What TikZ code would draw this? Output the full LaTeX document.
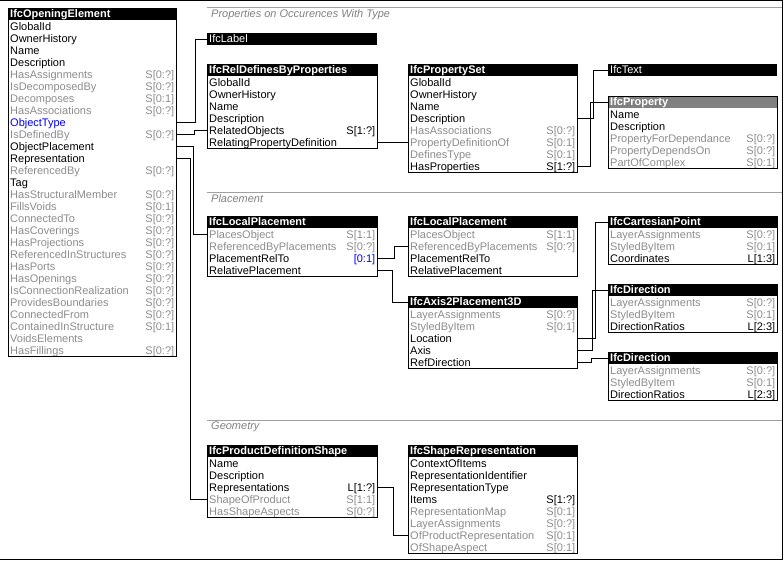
\documentclass[tikz,border=0pt]{standalone}
\usepackage{fontspec}
\setmainfont{Liberation Sans}
\definecolor{invgray}{RGB}{140,140,140}
\definecolor{secgray}{RGB}{128,128,128}
\definecolor{linegray}{RGB}{160,160,160}

\begin{document}
\begin{tikzpicture}[
    x=1pt, y=-1pt,
    hdr/.style={anchor=north west, fill=black, text=white, inner xsep=2pt, inner ysep=0pt,
        text height=9.5pt, text depth=2.5pt, align=left, font=\bfseries\fontsize{11}{12}\selectfont},
    typ/.style={hdr, font=\fontsize{11}{12}\selectfont},
    abs/.style={hdr, fill=gray},
    att/.style={anchor=north west, inner xsep=2pt, inner ysep=0pt, text height=10.5pt,
        text depth=1.5pt, align=left, font=\fontsize{11}{12}\selectfont},
    inv/.style={att, text=invgray},
    opt/.style={att, text=blue},
    card/.style={align=right},
    box/.style={draw, line width=1pt},
    link/.style={draw, line width=1pt},
    sec/.style={anchor=west, inner sep=0pt, text=secgray, font=\itshape\fontsize{11}{12}\selectfont},
    secline/.style={draw=linegray, line width=1pt}
]
    \useasboundingbox (0,0) rectangle (784,560);
    % frame
    \draw[line width=1pt] (0,0.5) -| (782.5,559) -- (0,559);

    % sections
    \draw[secline] (207,7.5) -- (782,7.5);
    \node[sec] (secprop) at (211,15) {Properties on Occurences With Type};
    \draw[secline] (207,192) -- (782,192);
    \node[sec] (secplace) at (211,199) {Placement};
    \draw[secline] (207,420) -- (782,420);
    \node[sec] (secgeo) at (211,427) {Geometry};

    % opening element
    \begin{scope}[shift={(8,8)}, every node/.append style={text width=164pt}]
        \node[hdr] (ope) at (0,0) {IfcOpeningElement};
        \foreach \n/\c/\s [count=\i] in {GlobalId//att, OwnerHistory//att, Name//att, Description//att,
            HasAssignments/S[0:?]/inv, IsDecomposedBy/S[0:?]/inv, Decomposes/S[0:1]/inv,
            HasAssociations/S[0:?]/inv, ObjectType//opt, IsDefinedBy/S[0:?]/inv,
            ObjectPlacement//att, Representation//att, ReferencedBy/S[0:?]/inv, Tag//att,
            HasStructuralMember/S[0:?]/inv, FillsVoids/S[0:1]/inv, ConnectedTo/S[0:?]/inv,
            HasCoverings/S[0:?]/inv, HasProjections/S[0:?]/inv, ReferencedInStructures/S[0:?]/inv,
            HasPorts/S[0:?]/inv, HasOpenings/S[0:?]/inv, IsConnectionRealization/S[0:?]/inv,
            ProvidesBoundaries/S[0:?]/inv, ConnectedFrom/S[0:?]/inv, ContainedInStructure/S[0:1]/inv,
            VoidsElements//inv, HasFillings/S[0:?]/inv} {
            \node[\s] (ope-\n) at (0,12*\i) {\n};
            \node[\s, card] (ope-\n-c) at (0,12*\i) {\c};
        }
        \draw[box] (ope.north west) rectangle (ope-HasFillings.south east);
    \end{scope}

    % properties
    \node[typ, text width=166pt] (lbl) at (207,33) {IfcLabel};
    \begin{scope}[shift={(207,64)}, every node/.append style={text width=166pt}]
        \node[hdr] (rdp) at (0,0) {IfcRelDefinesByProperties};
        \foreach \n/\c/\s [count=\i] in {GlobalId//att, OwnerHistory//att, Name//att, Description//att,
            RelatedObjects/S[1:?]/att, RelatingPropertyDefinition//att} {
            \node[\s] (rdp-\n) at (0,12*\i) {\n};
            \node[\s, card] (rdp-\n-c) at (0,12*\i) {\c};
        }
        \draw[box] (rdp.north west) rectangle (rdp-RelatingPropertyDefinition.south east);
    \end{scope}
    \begin{scope}[shift={(408,64)}, every node/.append style={text width=165pt}]
        \node[hdr] (pset) at (0,0) {IfcPropertySet};
        \foreach \n/\c/\s [count=\i] in {GlobalId//att, OwnerHistory//att, Name//att, Description//att,
            HasAssociations/S[0:?]/inv, PropertyDefinitionOf/S[0:1]/inv, DefinesType/S[0:1]/inv,
            HasProperties/S[1:?]/att} {
            \node[\s] (pset-\n) at (0,12*\i) {\n};
            \node[\s, card] (pset-\n-c) at (0,12*\i) {\c};
        }
        \draw[box] (pset.north west) rectangle (pset-HasProperties.south east);
    \end{scope}
    \node[typ, text width=165pt] (txt) at (608,64) {IfcText};
    \begin{scope}[shift={(608,96)}, every node/.append style={text width=165pt}]
        \node[abs] (prop) at (0,0) {IfcProperty};
        \foreach \n/\c/\s [count=\i] in {Name//att, Description//att, PropertyForDependance/S[0:?]/inv,
            PropertyDependsOn/S[0:?]/inv, PartOfComplex/S[0:1]/inv} {
            \node[\s] (prop-\n) at (0,12*\i) {\n};
            \node[\s, card] (prop-\n-c) at (0,12*\i) {\c};
        }
        \draw[box] (prop.north west) rectangle (prop-PartOfComplex.south east);
    \end{scope}

    % placement
    \begin{scope}[shift={(207,216)}, every node/.append style={text width=166pt}]
        \node[hdr] (lp1) at (0,0) {IfcLocalPlacement};
        \foreach \n/\c/\s [count=\i] in {PlacesObject/S[1:1]/inv, ReferencedByPlacements/S[0:?]/inv,
            PlacementRelTo/{\textcolor{blue}{[0:1]}}/att, RelativePlacement//att} {
            \node[\s] (lp1-\n) at (0,12*\i) {\n};
            \node[\s, card] (lp1-\n-c) at (0,12*\i) {\c};
        }
        \draw[box] (lp1.north west) rectangle (lp1-RelativePlacement.south east);
    \end{scope}
    \begin{scope}[shift={(408,216)}, every node/.append style={text width=165pt}]
        \node[hdr] (lp2) at (0,0) {IfcLocalPlacement};
        \foreach \n/\c/\s [count=\i] in {PlacesObject/S[1:1]/inv, ReferencedByPlacements/S[0:?]/inv,
            PlacementRelTo//att, RelativePlacement//att} {
            \node[\s] (lp2-\n) at (0,12*\i) {\n};
            \node[\s, card] (lp2-\n-c) at (0,12*\i) {\c};
        }
        \draw[box] (lp2.north west) rectangle (lp2-RelativePlacement.south east);
    \end{scope}
    \begin{scope}[shift={(408,296)}, every node/.append style={text width=165pt}]
        \node[hdr] (ax) at (0,0) {IfcAxis2Placement3D};
        \foreach \n/\c/\s [count=\i] in {LayerAssignments/S[0:?]/inv, StyledByItem/S[0:1]/inv,
            Location//att, Axis//att, RefDirection//att} {
            \node[\s] (ax-\n) at (0,12*\i) {\n};
            \node[\s, card] (ax-\n-c) at (0,12*\i) {\c};
        }
        \draw[box] (ax.north west) rectangle (ax-RefDirection.south east);
    \end{scope}
    \begin{scope}[shift={(608,216)}, every node/.append style={text width=165pt}]
        \node[hdr] (cp) at (0,0) {IfcCartesianPoint};
        \foreach \n/\c/\s [count=\i] in {LayerAssignments/S[0:?]/inv, StyledByItem/S[0:1]/inv,
            Coordinates/L[1:3]/att} {
            \node[\s] (cp-\n) at (0,12*\i) {\n};
            \node[\s, card] (cp-\n-c) at (0,12*\i) {\c};
        }
        \draw[box] (cp.north west) rectangle (cp-Coordinates.south east);
    \end{scope}
    \begin{scope}[shift={(608,284)}, every node/.append style={text width=165pt}]
        \node[hdr] (dir1) at (0,0) {IfcDirection};
        \foreach \n/\c/\s [count=\i] in {LayerAssignments/S[0:?]/inv, StyledByItem/S[0:1]/inv,
            DirectionRatios/L[2:3]/att} {
            \node[\s] (dir1-\n) at (0,12*\i) {\n};
            \node[\s, card] (dir1-\n-c) at (0,12*\i) {\c};
        }
        \draw[box] (dir1.north west) rectangle (dir1-DirectionRatios.south east);
    \end{scope}
    \begin{scope}[shift={(608,352)}, every node/.append style={text width=165pt}]
        \node[hdr] (dir2) at (0,0) {IfcDirection};
        \foreach \n/\c/\s [count=\i] in {LayerAssignments/S[0:?]/inv, StyledByItem/S[0:1]/inv,
            DirectionRatios/L[2:3]/att} {
            \node[\s] (dir2-\n) at (0,12*\i) {\n};
            \node[\s, card] (dir2-\n-c) at (0,12*\i) {\c};
        }
        \draw[box] (dir2.north west) rectangle (dir2-DirectionRatios.south east);
    \end{scope}

    % geometry
    \begin{scope}[shift={(207,445)}, every node/.append style={text width=166pt}]
        \node[hdr] (pds) at (0,0) {IfcProductDefinitionShape};
        \foreach \n/\c/\s [count=\i] in {Name//att, Description//att, Representations/L[1:?]/att,
            ShapeOfProduct/S[1:1]/inv, HasShapeAspects/S[0:?]/inv} {
            \node[\s] (pds-\n) at (0,12*\i) {\n};
            \node[\s, card] (pds-\n-c) at (0,12*\i) {\c};
        }
        \draw[box] (pds.north west) rectangle (pds-HasShapeAspects.south east);
    \end{scope}
    \begin{scope}[shift={(408,445)}, every node/.append style={text width=165pt}]
        \node[hdr] (shr) at (0,0) {IfcShapeRepresentation};
        \foreach \n/\c/\s [count=\i] in {ContextOfItems//att, RepresentationIdentifier//att,
            RepresentationType//att, Items/S[1:?]/att, RepresentationMap/S[0:1]/inv,
            LayerAssignments/S[0:?]/inv, OfProductRepresentation/S[0:1]/inv, OfShapeAspect/S[0:1]/inv} {
            \node[\s] (shr-\n) at (0,12*\i) {\n};
            \node[\s, card] (shr-\n-c) at (0,12*\i) {\c};
        }
        \draw[box] (shr.north west) rectangle (shr-OfShapeAspect.south east);
    \end{scope}

    % links
    \draw[link] (ope-ObjectType.east) -- ++(19,0) |- (lbl.west);
    \draw[link] (ope-IsDefinedBy.east) -- ++(18,0) |- (rdp-RelatedObjects.west);
    \draw[link] (ope-ObjectPlacement.east) -- ++(17,0) |- (lp1-PlacesObject.west);
    \draw[link] (ope-Representation.east) -- ++(14,0) |- (pds-ShapeOfProduct.west);
    \draw[link] (rdp-RelatingPropertyDefinition.east) -- (pset-PropertyDefinitionOf.west);
    \draw[link] (pset-Description.east) -- ++(16,0) |- (txt.west);
    \draw[link] (pset-HasProperties.east) -- ++(13,0) |- (prop.west);
    \draw[link] (lp1-PlacementRelTo.east) -- ++(17,0) |- (lp2-ReferencedByPlacements.west);
    \draw[link] (lp1-RelativePlacement.east) -- ++(15,0) |- (ax.west);
    \draw[link] (ax-Location.east) -- ++(18,0) |- (cp.west);
    \draw[link] (ax-Axis.east) -- ++(15,0) |- (dir1.west);
    \draw[link] (ax-RefDirection.east) -- ++(14,0) |- (dir2.west);
    \draw[link] (pds-Representations.east) -- ++(16,0) |- (shr-OfProductRepresentation.west);
\end{tikzpicture}
\end{document}
